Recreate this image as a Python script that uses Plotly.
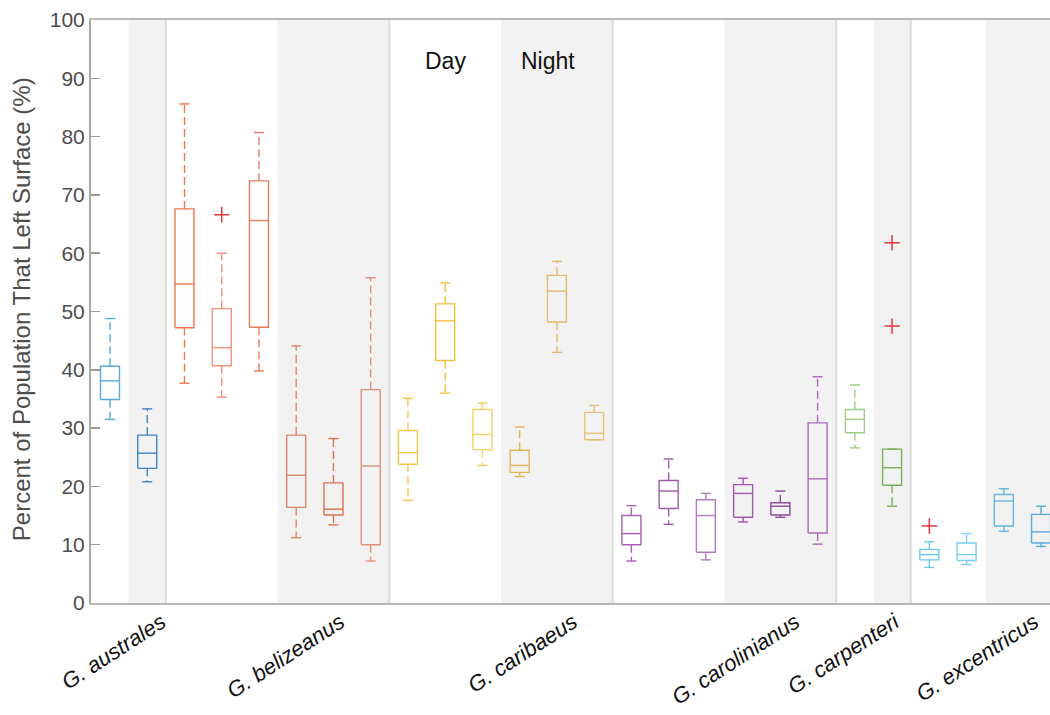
import plotly.graph_objects as go

# ---------------- data ----------------
species = ["G. australes", "G. belizeanus", "G. caribaeus",
           "G. carolinianus", "G. carpenteri", "G. excentricus"]
n_day = [1, 3, 3, 3, 1, 2]
n_night = [1, 3, 3, 3, 1, 2]
# label anchor positions (tick values, in box-slot units)
label_pos = [1.38, 6.18, 12.43, 18.40, 21.07, 24.82]

# box statistics, one entry per box, left to right
whisk_hi = [48.8, 33.3,
            85.6, 60.0, 80.7, 44.1, 28.2, 55.8,
            35.1, 54.9, 34.3, 30.2, 58.6, 33.9,
            16.7, 24.7, 18.8, 21.4, 19.2, 38.8,
            37.4, 26.4,
            10.5, 11.9, 19.6, 16.6]
q3 = [40.6, 28.8,
      67.6, 50.5, 72.4, 28.8, 20.6, 36.6,
      29.6, 51.3, 33.2, 26.2, 56.2, 32.7,
      15.0, 21.0, 17.7, 20.3, 17.2, 30.9,
      33.2, 26.4,
      9.2, 10.3, 18.6, 15.2]
median = [38.1, 25.7,
          54.7, 43.8, 65.6, 21.9, 16.1, 23.5,
          25.8, 48.4, 28.9, 23.6, 53.5, 29.1,
          11.9, 19.2, 15.0, 18.8, 16.6, 21.3,
          31.5, 23.2,
          8.3, 8.3, 17.5, 12.2]
q1 = [34.9, 23.1,
      47.2, 40.7, 47.3, 16.4, 15.1, 10.0,
      23.8, 41.6, 26.3, 22.4, 48.2, 28.0,
      10.0, 16.2, 8.7, 14.7, 15.1, 12.0,
      29.2, 20.2,
      7.4, 7.3, 13.2, 10.3]
whisk_lo = [31.5, 20.8,
            37.7, 35.3, 39.8, 11.2, 13.4, 7.2,
            17.6, 36.0, 23.6, 21.7, 43.0, 28.0,
            7.2, 13.5, 7.4, 13.9, 14.7, 10.1,
            26.6, 16.6,
            6.1, 6.6, 12.3, 9.7]
outlier_box = [3, 21, 21, 22]
outlier_val = [66.6, 61.8, 47.5, 13.2]

box_colors = ["#5aa8dc", "#3f83c4",
              "#e9774f", "#f0917a", "#ea7a5c", "#d98670", "#dc7150", "#e0907a",
              "#f3c64f", "#f2c040", "#f6cf68", "#e2b45a", "#e5ba6a", "#e8c07a",
              "#a662b2", "#a058ab", "#b07cc0", "#9c5aa8", "#8e4a9c", "#a86ab5",
              "#a2cc84", "#7dad5c",
              "#6ec8ee", "#7ccdef", "#66b6de", "#5aaad6"]

# ---------------- layout helpers ----------------
BOX_HALF = 0.255
CAP_HALF = 0.135
BAND = "#f2f2f2"
TOTAL = sum(n_day) + sum(n_night)

fig = go.Figure()

shapes = []
start = 0
bounds = []
for nd, nn in zip(n_day, n_night):
    night_start = start + nd
    end = night_start + nn
    shapes.append(dict(type="rect", xref="x", yref="y",
                       x0=night_start - 0.5, x1=end - 0.5 if end < TOTAL else TOTAL + 2,
                       y0=0, y1=100, fillcolor=BAND, line_width=0, layer="below"))
    bounds.append(end - 0.5)
    start = end
for b in bounds[:-1]:
    shapes.append(dict(type="line", xref="x", yref="y", x0=b, x1=b, y0=0, y1=100,
                       line=dict(color="#dcdcdc", width=2), layer="below"))

for i in range(len(median)):
    c = box_colors[i]
    x = i
    # box, median and caps (solid)
    fig.add_trace(go.Scatter(
        x=[x - BOX_HALF, x + BOX_HALF, x + BOX_HALF, x - BOX_HALF, x - BOX_HALF, None,
           x - BOX_HALF, x + BOX_HALF, None,
           x - CAP_HALF, x + CAP_HALF, None, x - CAP_HALF, x + CAP_HALF],
        y=[q1[i], q1[i], q3[i], q3[i], q1[i], None,
           median[i], median[i], None,
           whisk_hi[i], whisk_hi[i], None, whisk_lo[i], whisk_lo[i]],
        mode="lines", line=dict(color=c, width=1.4), hoverinfo="skip", showlegend=False))
    # whiskers (dashed)
    fig.add_trace(go.Scatter(
        x=[x, x, None, x, x],
        y=[q3[i], whisk_hi[i], None, q1[i], whisk_lo[i]],
        mode="lines", line=dict(color=c, width=1.4, dash="8px,4px"),
        hoverinfo="skip", showlegend=False))

fig.add_trace(go.Scatter(
    x=outlier_box, y=outlier_val, mode="markers",
    marker=dict(symbol="cross-thin", size=11, line=dict(color="#e8343c", width=1.5)),
    hoverinfo="skip", showlegend=False))

fig.add_annotation(x=9, y=93, xref="x", yref="y", text="Day", showarrow=False,
                   font=dict(family="Liberation Sans, Arial", size=23, color="#111111"))
fig.add_annotation(x=11.77, y=93, xref="x", yref="y", text="Night", showarrow=False,
                   font=dict(family="Liberation Sans, Arial", size=23, color="#111111"))
# y-axis title
fig.add_annotation(x=-70 / 959, y=0.504, xref="paper", yref="paper",
                   text="Percent of Population That Left Surface (%)", textangle=-90,
                   showarrow=False, xanchor="center", yanchor="middle",
                   font=dict(family="Liberation Sans, Arial", size=24, color="#4d4d4d"))

fig.update_layout(
    width=1050, height=715,
    margin=dict(l=91, r=0, t=20, b=112, pad=0),
    paper_bgcolor="white", plot_bgcolor="white",
    shapes=shapes,
    font=dict(family="Liberation Sans, Arial", color="#4d4d4d"),
)
fig.update_xaxes(
    range=[-0.51, 25.24], showgrid=False, zeroline=False, automargin=False,
    showline=True, linecolor="#b8b8b8", linewidth=2, mirror=True,
    tickmode="array", tickvals=label_pos,
    ticktext=["<i>%s</i>" % s for s in species],
    tickangle=-33, ticks="", ticklabelstandoff=-4,
    tickfont=dict(size=22, color="#111111"),
)
fig.update_yaxes(
    range=[0, 100], showgrid=False, zeroline=False, automargin=False,
    showline=True, linecolor="#a8a8a8", linewidth=2,
    tickmode="array", tickvals=list(range(0, 101, 10)),
    ticks="inside", ticklen=9, tickcolor="#999999", tickwidth=1.5,
    tickfont=dict(size=21, color="#4d4d4d"),
)

# remove the default 8px page margin so the figure fills the window exactly
fig.write_html("out.html",
               config={"displayModeBar": False, "staticPlot": True},
               post_script="document.body.style.margin='0';"
                           "document.body.style.overflow='hidden';")
